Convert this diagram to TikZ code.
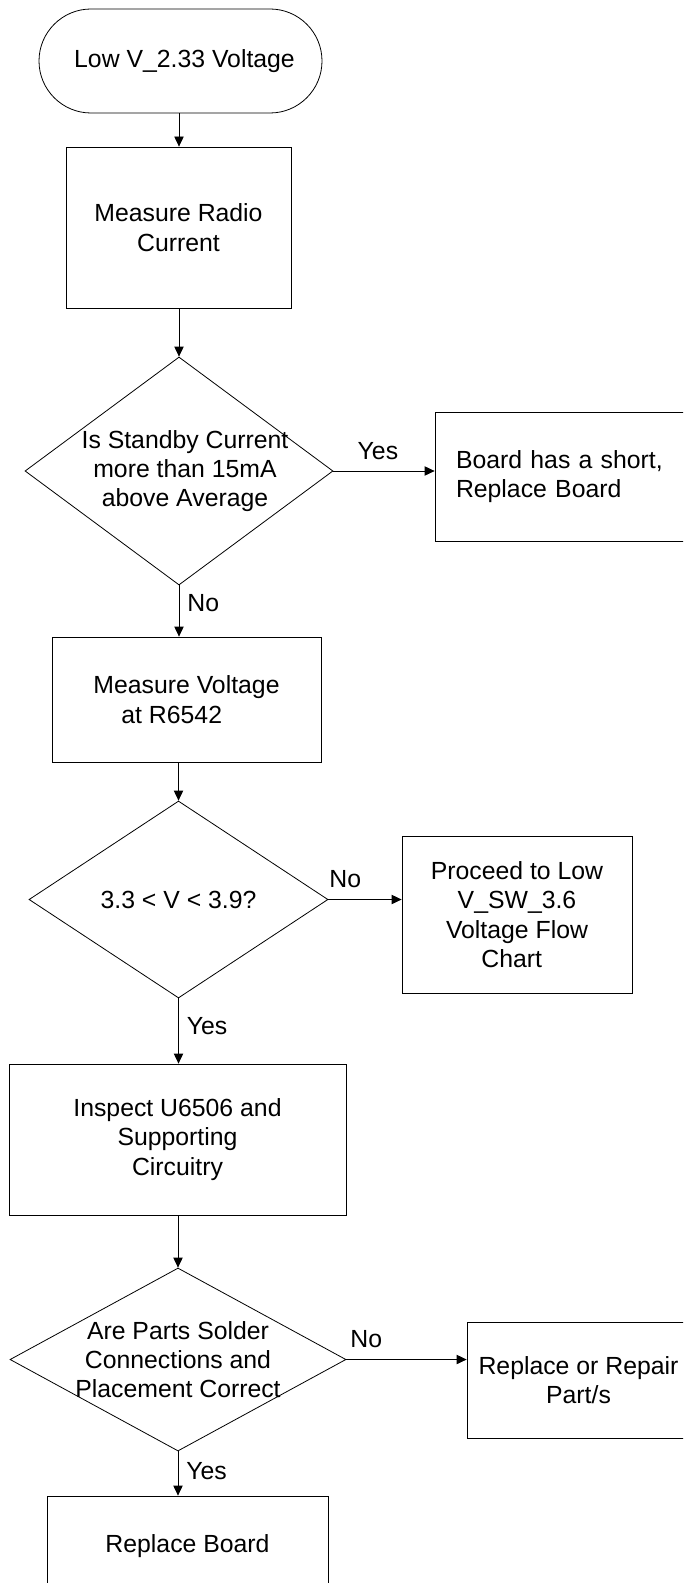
\documentclass[tikz,border=0pt]{standalone}
\usepackage{fontspec}
\setmainfont{Liberation Sans}
\usetikzlibrary{shapes.geometric,arrows.meta}

\begin{document}
\begin{tikzpicture}[x=0.75pt,y=0.75pt,yscale=-1,xscale=1,
  every node/.style={font=\fontsize{18.6}{22}\selectfont},
  base/.style={draw, line width=0.6pt, inner sep=0pt},
  startstop/.style={base, rectangle, rounded corners=39pt},
  process/.style={base, rectangle, align=center},
  decision/.style={base, diamond},
  dtext/.style={align=center, inner sep=0pt},
  lbl/.style={inner xsep=6pt, inner ysep=8.5pt},
  flow/.style={line width=0.6pt, -{Triangle[length=7.5pt,width=7pt]}}
]
\useasboundingbox (0,0) rectangle (683,1583);
\clip (0,0) rectangle (683,1583);

%Shape: Terminator
\node[startstop, minimum width=212.25pt, minimum height=78pt] (start) at (180.5,61) {\hspace*{6pt}Low V\_2.33 Voltage};
%Shape: Rectangle
\node[process, minimum width=168.75pt, minimum height=120.75pt] (radio) at (178.5,227.5) {Measure Radio\\Current};
%Shape: Diamond
\node[decision, minimum width=231pt, minimum height=171pt,
  label={[dtext,xshift=4.5pt]center:{Is Standby Current\\more than 15mA\\above Average}}] (standby) at (179,471) {};
%Shape: Rectangle
\node[process, align=left, text width=159.75pt, inner xsep=15.75pt, minimum width=191.25pt, minimum height=96.75pt] (short) at (562.5,476.5) {Board has a short,\\Replace Board};
%Shape: Rectangle
\node[process, align=left, minimum width=201.75pt, minimum height=93.75pt] (volt) at (186.5,699.5) {Measure Voltage\\\hspace*{21pt}at R6542};
%Shape: Diamond
\node[decision, minimum width=224.25pt, minimum height=147.75pt,
  label={[dtext]center:{3.3 < V < 3.9?}}] (range) at (178.5,899.5) {};
%Shape: Rectangle
\node[process, minimum width=172.5pt, minimum height=117.75pt] (proceed) at (517,914.5) {Proceed to Low\\V\_SW\_3.6\\Voltage Flow\\Chart\hspace*{8pt}};
%Shape: Rectangle
\node[process, minimum width=252.75pt, minimum height=113.25pt] (inspect) at (177.5,1139.5) {Inspect U6506 and\\Supporting\\Circuitry};
%Shape: Diamond
\node[decision, minimum width=252pt, minimum height=137.25pt,
  label={[dtext]center:{Are Parts Solder\\Connections and\\Placement Correct}}] (solder) at (178,1359.5) {};
%Shape: Rectangle
\node[process, minimum width=167.25pt, minimum height=87pt] (repair) at (578.5,1380) {Replace or Repair\\Part/s};
%Shape: Rectangle
\node[process, minimum width=210.75pt, minimum height=75pt] (board) at (187.5,1546) {Replace Board};

%Connectors
\draw[flow] (standby.north |- start.south) -- (standby.north |- radio.north);
\draw[flow] (standby.north |- radio.south) -- (standby.north);
\draw[flow] (standby.east) -- node[lbl, above, pos=0.44] (yes1) {Yes} (standby.east -| short.west);
\draw[flow] (standby.south) -- node[lbl, right, pos=0.35] (no1) {No} (standby.south |- volt.north);
\draw[flow] (range.north |- volt.south) -- (range.north);
\draw[flow] (range.east) -- node[lbl, above, pos=0.23] (no2) {No} (range.east -| proceed.west);
\draw[flow] (range.south) -- node[lbl, right, pos=0.42] (yes2) {Yes} (range.south |- inspect.north);
\draw[flow] (solder.north |- inspect.south) -- (solder.north);
\draw[flow] (solder.east) -- node[lbl, above, pos=0.165] (no3) {No} (solder.east -| repair.west);
\draw[flow] (solder.south) -- node[lbl, right, pos=0.44] (yes3) {Yes} (solder.south |- board.north);

\end{tikzpicture}
\end{document}
